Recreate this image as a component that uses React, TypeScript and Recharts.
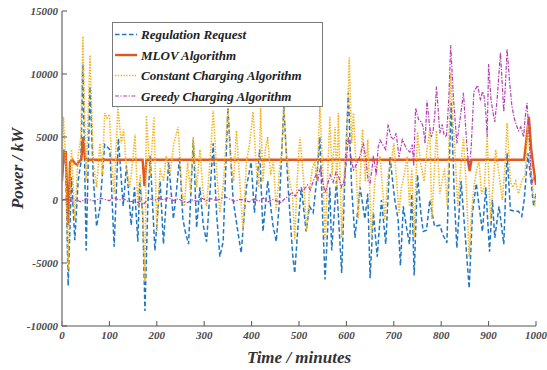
import React from 'react';
import { LineChart, Line, XAxis, YAxis, Legend, Label } from 'recharts';

// ---- data (minutes, kW) ----
const xTicks = [0, 100, 200, 300, 400, 500, 600, 700, 800, 900, 1000];
const yTicks = [-10000, -5000, 0, 5000, 10000, 15000];

const regulationRequest: number[][] = [
  [0,1500],[4,4000],[8,2500],[13,-6800],[20,1800],[27,-3200],[34,1500],[40,3000],[44,10800],[51,-4000],
  [59,9000],[66,1800],[73,-2100],[80,-600],[90,4400],[101,4000],[110,-3700],[119,4900],[129,-500],[136,2700],
  [146,-2000],[153,1000],[160,-3300],[164,1500],[170,-1000],[175,-8800],[181,-500],[186,3500],[196,-4000],[207,1500],
  [214,-3500],[225,3000],[235,-1500],[241,500],[248,3400],[255,-1500],[260,-2500],[267,-3500],[277,4800],[284,-2200],
  [291,1000],[298,-2000],[305,-3300],[312,500],[319,4500],[326,-1000],[333,-4500],[340,-3300],[350,7300],[361,0],
  [371,-2500],[378,-4200],[389,1000],[399,3000],[406,-1000],[417,4000],[424,-2500],[434,1500],[445,-2000],[452,-3300],
  [459,0],[468,7400],[477,1000],[487,-4500],[491,-5800],[498,-2000],[505,1000],[515,-2500],[522,-500],[530,-1000],
  [537,1500],[544,5000],[550,-1500],[555,-6300],[565,1000],[569,-4000],[579,1500],[590,-5800],[597,2000],[604,8500],
  [611,1000],[618,-3000],[629,1000],[639,-1500],[645,500],[650,-6200],[657,-1000],[665,-4500],[674,0],[683,-3500],
  [692,3400],[702,0],[709,-1500],[714,-5200],[720,-500],[726,-2000],[733,-3500],[738,500],[743,-6000],[750,2000],
  [757,-1000],[762,-2500],[769,-2400],[776,0],[786,-2100],[797,-2000],[804,-2800],[812,-3400],[821,7700],[828,0],
  [833,-3800],[842,1500],[849,-2000],[859,-7000],[866,-1000],[874,1300],[880,-500],[887,-2500],[894,1000],[902,-4100],
  [908,0],[913,-3000],[922,-500],[932,-3500],[939,3700],[946,-800],[956,-900],[963,-900],[970,-1300],[975,0],
  [983,3700],[988,2000],[995,-500],[1000,500],
];

const mlovAlgorithm: number[][] = [
  [0,1500],[4,3800],[8,3800],[13,-2000],[17,3000],[22,3200],[27,2900],[32,2800],[37,3100],[41,3200],
  [44,5000],[48,3400],[52,3200],[170,3200],[174,1100],[178,3200],[856,3200],[860,2300],[864,3200],[975,3200],
  [985,6600],[990,4000],[995,2500],[1000,1200],
];

const constantCharging: number[][] = [
  [0,2500],[3,6600],[8,3000],[13,-5500],[17,1500],[20,4000],[27,-1500],[34,3500],[40,5000],[44,13000],
  [51,1500],[59,11500],[66,3000],[73,1000],[80,4500],[85,2000],[90,6900],[95,6500],[100,6800],[105,3000],
  [110,500],[114,4000],[118,7400],[125,4500],[130,5600],[136,2500],[143,1000],[150,3500],[154,5200],[160,-500],
  [165,2000],[170,-1000],[175,-6500],[178,6700],[186,2000],[194,6600],[200,-2500],[207,2500],[214,1500],[220,3500],
  [228,2000],[236,4500],[245,5800],[252,1000],[258,-500],[265,3000],[271,500],[277,5000],[284,1000],[291,4000],
  [298,500],[305,-500],[312,3000],[319,7100],[326,2500],[333,-1000],[340,1000],[345,4000],[350,7300],[356,3000],
  [362,1500],[368,5500],[375,1500],[382,-2500],[389,3000],[396,4500],[403,7000],[410,2500],[415,1000],[419,7300],
  [424,1500],[429,4000],[434,5000],[440,2000],[446,3000],[452,-800],[459,2500],[464,4000],[468,7300],[474,3500],
  [480,1500],[486,500],[491,-3200],[496,1500],[502,5000],[509,2000],[516,-2500],[523,1000],[528,2500],[533,3000],
  [538,1500],[544,7400],[550,2500],[555,-3200],[560,1500],[565,6600],[570,2000],[576,5800],[580,1000],[583,6900],
  [587,1500],[590,-3000],[596,2500],[601,5000],[606,11300],[611,4500],[615,6900],[620,3000],[625,-1500],[630,2500],
  [634,5600],[640,1500],[645,4800],[649,1000],[653,-3000],[660,1500],[666,3000],[671,3500],[676,1000],[681,-1500],
  [688,2000],[695,3000],[700,4500],[705,2000],[711,-1000],[716,1000],[722,2000],[728,3500],[733,-500],[738,2500],
  [743,-3000],[750,5400],[756,3000],[764,1500],[770,4000],[776,5600],[780,-1500],[786,2500],[790,5500],[797,500],
  [802,1500],[807,2500],[813,-500],[820,10100],[825,6000],[828,4500],[835,-500],[841,2500],[847,5000],[853,1000],
  [859,-4500],[864,-1000],[869,1000],[875,2500],[880,3000],[885,500],[891,1000],[897,5000],[904,-1500],[910,1500],
  [915,4000],[922,2000],[929,0],[935,3000],[939,6100],[946,1500],[951,1000],[957,1500],[963,500],[970,1500],
  [977,2000],[983,6000],[988,3000],[993,1000],[997,-500],[1000,500],
];

const greedyCharging: number[][] = [
  [0,0],[10,100],[20,-100],[30,0],[40,-150],[50,100],[60,0],[70,-100],[80,150],[90,50],
  [100,-50],[110,200],[120,0],[130,100],[140,-150],[150,-100],[160,-200],[165,-100],[171,-350],[178,-100],
  [185,100],[195,-50],[205,150],[215,0],[225,200],[235,-50],[245,100],[255,-100],[265,-200],[275,0],
  [285,-100],[295,150],[305,-50],[315,100],[325,-50],[335,100],[345,250],[355,50],[365,-100],[375,50],
  [385,0],[395,-150],[405,100],[415,-100],[425,150],[435,-150],[445,50],[455,-100],[462,-200],[470,100],
  [478,300],[485,600],[492,300],[500,800],[506,600],[512,900],[518,1200],[524,800],[530,1500],[536,2000],
  [540,1600],[545,2600],[550,1500],[555,550],[560,1200],[566,2000],[572,1400],[578,2200],[584,1800],[590,1000],
  [595,1500],[600,3000],[604,5000],[609,3500],[615,2400],[621,2800],[627,3300],[632,4000],[636,4500],[642,3000],
  [646,1500],[650,1350],[654,2500],[657,3500],[663,2000],[667,4200],[671,4750],[678,4300],[683,4000],[688,6000],
  [694,5000],[700,4800],[705,5300],[711,3400],[718,4800],[724,4300],[728,4000],[734,3800],[739,4400],[742,2700],
  [746,7300],[752,6400],[758,6200],[762,5800],[766,4500],[770,7900],[775,6000],[779,5000],[783,5500],[787,7000],
  [790,9000],[794,7000],[797,5300],[802,6000],[806,5200],[811,5000],[816,8000],[820,12300],[826,8000],[830,6000],
  [833,4500],[840,6500],[847,8500],[852,5500],[856,3500],[859,2600],[863,4000],[869,8600],[877,9100],[883,7900],
  [887,8600],[890,8400],[894,7000],[897,5000],[900,10800],[905,8000],[909,7000],[913,6200],[918,8000],[925,11700],
  [929,9000],[932,7000],[936,9500],[939,12000],[944,9500],[949,7500],[954,6500],[958,6000],[963,5500],[968,5800],
  [974,5000],[977,6500],[981,7700],[985,5500],[991,1200],[995,1800],[1000,1500],
];

const toRows = (pairs: number[][]) => pairs.map(([t, v]) => ({ t, v }));

// ---- styles ----
const SERIF = '"Liberation Serif", "Times New Roman", serif';
const AXIS_COLOR = '#8c8c8c';
const TICK_STYLE = { fill: '#4a4a4a', fontSize: 11, fontFamily: SERIF, fontStyle: 'italic', fontWeight: 'bold' } as any;

const SERIES = [
  { name: 'Regulation Request', data: regulationRequest, color: '#1f77c4', width: 1.5, dash: '4.5 2.5' },
  { name: 'MLOV Algorithm', data: mlovAlgorithm, color: '#e0581f', width: 2.4, dash: undefined },
  { name: 'Constant Charging Algorithm', data: constantCharging, color: '#f2b41e', width: 1.6, dash: '1.4 1.4' },
  { name: 'Greedy Charging Algorithm', data: greedyCharging, color: '#b23fb2', width: 1.2, dash: '4 1.5 1.2 1.5' },
];

const LegendBox = () => (
  <div style={{ width: 211, height: 85, border: '1px solid #7a7a7a', background: '#fff', boxSizing: 'border-box' }}>
    <svg width={209} height={83} style={{ display: 'block' }}>
      {SERIES.map((s, i) => {
        const cy = 11.5 + i * 20.5;
        return (
          <g key={s.name}>
            <line x1={2} x2={24} y1={cy} y2={cy} stroke={s.color} strokeWidth={s.width} strokeDasharray={s.dash} />
            <text x={28} y={cy} dominantBaseline="central" fontFamily={SERIF} fontStyle="italic" fontWeight="bold"
              fontSize={13} fill="#222">{s.name}</text>
          </g>
        );
      })}
    </svg>
  </div>
);

const YTitle = (props: any) => {
  const vb = props.viewBox || { x: 0, y: 11, width: 62, height: 315 };
  const cx = 17;
  const cy = vb.y + vb.height / 2;
  return (
    <text x={cx} y={cy} transform={`rotate(-90 ${cx} ${cy})`} textAnchor="middle" dominantBaseline="central"
      fontFamily={SERIF} fontStyle="italic" fontWeight="bold" fontSize={17} fill="#333">Power / kW</text>
  );
};

const XTitle = (props: any) => {
  const vb = props.viewBox || { x: 62, y: 326, width: 474, height: 44 };
  const cx = vb.x + vb.width / 2;
  return (
    <text x={cx} y={357} textAnchor="middle" dominantBaseline="central"
      fontFamily={SERIF} fontStyle="italic" fontWeight="bold" fontSize={17} fill="#333">Time / minutes</text>
  );
};

export default function App() {
  return (
    <div style={{ position: 'absolute', left: 0, top: 0, width: 547, height: 370, background: '#fff' }}>
      <LineChart width={547} height={370} margin={{ top: 11, right: 11, bottom: 0, left: 0 }}>
        <XAxis xAxisId="main" type="number" dataKey="t" domain={[0, 1000]} ticks={xTicks} allowDataOverflow
          height={44} tickSize={-5} tickMargin={10} tick={TICK_STYLE}
          axisLine={{ stroke: AXIS_COLOR, strokeWidth: 1.6 }} tickLine={{ stroke: '#555', strokeWidth: 1 }}>
          <Label content={<XTitle />} />
        </XAxis>
        <XAxis xAxisId="top" orientation="top" type="number" dataKey="t" domain={[0, 1000]} ticks={xTicks} allowDataOverflow
          height={0} tickSize={-5} tick={false}
          axisLine={{ stroke: AXIS_COLOR, strokeWidth: 1.6 }} tickLine={{ stroke: '#555', strokeWidth: 1 }} />
        <YAxis yAxisId="main" type="number" domain={[-10000, 15000]} ticks={yTicks} allowDataOverflow
          width={62} tickSize={-5} tickMargin={9} tick={TICK_STYLE}
          axisLine={{ stroke: AXIS_COLOR, strokeWidth: 1.6 }} tickLine={{ stroke: '#555', strokeWidth: 1 }}>
          <Label content={<YTitle />} />
        </YAxis>
        <YAxis yAxisId="right" orientation="right" type="number" domain={[-10000, 15000]} ticks={yTicks} allowDataOverflow
          width={0} tickSize={-5} tick={false}
          axisLine={{ stroke: AXIS_COLOR, strokeWidth: 1.6 }} tickLine={{ stroke: '#555', strokeWidth: 1 }} />
        {SERIES.map((s) => (
          <Line key={s.name} xAxisId="main" yAxisId="main" data={toRows(s.data)} dataKey="v" name={s.name}
            type="linear" stroke={s.color} strokeWidth={s.width} strokeDasharray={s.dash}
            dot={false} activeDot={false} isAnimationActive={false} />
        ))}
        <Legend layout="vertical" align="center" verticalAlign="middle" content={<LegendBox />}
          wrapperStyle={{ position: 'absolute', left: 112, top: 22, width: 211, height: 85 }} />
      </LineChart>
    </div>
  );
}
